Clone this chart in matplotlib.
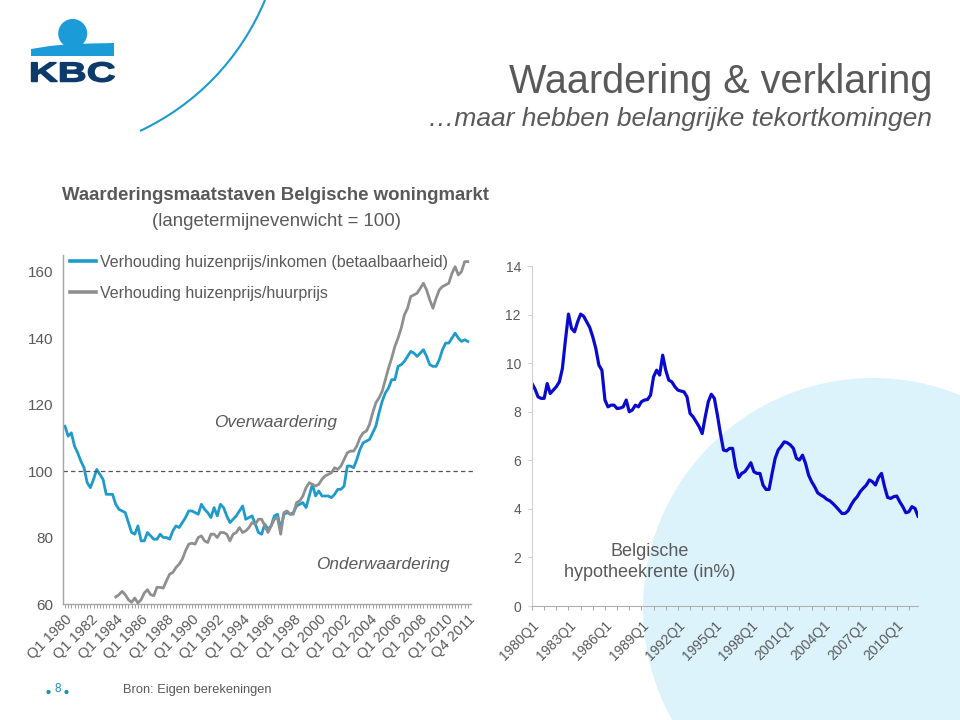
import numpy as np
import matplotlib
matplotlib.use("Agg")
import matplotlib.pyplot as plt
from matplotlib.patches import Circle, Polygon, PathPatch
from matplotlib.path import Path
from matplotlib.textpath import TextPath
from matplotlib.font_manager import FontProperties
from matplotlib.transforms import Affine2D

plt.rcParams['font.family'] = ['Liberation Sans', 'DejaVu Sans']

# ---------------- data ----------------
quarters = [f"{y}Q{q}" for y in range(1980, 2012) for q in range(1, 5)]

inkomen = [
    113.5, 110.5, 111.5, 107.5, 105.5, 103, 101, 96.5, 95, 97.5,
    100.5, 99, 97.5, 93, 93, 93, 90, 88.5, 88, 87.5,
    84.5, 81.5, 81, 83.5, 79, 79, 81.5, 80.5, 79.5, 79.5,
    81, 80, 80, 79.5, 82, 83.5, 83, 84.5, 86, 88,
    88, 87.5, 87, 90, 88.5, 87.5, 86, 89, 86.5, 90,
    89, 86.5, 84.5, 85.5, 86.5, 88, 89.5, 85.5, 86, 86.5,
    84, 81.5, 81, 84, 82.5, 83.5, 86.5, 87, 82.5, 87,
    87.5, 87, 87.5, 89.5, 90, 90.5, 89, 92.5, 96, 92.5,
    94, 92.5, 92.5, 92.5, 92, 93, 94.5, 94.5, 95.5, 101.5,
    101.5, 101, 103.5, 106.5, 108.5, 109, 109.5, 111.5, 113.5, 117.5,
    121, 123.5, 125, 127.5, 127.5, 131.5, 132, 133, 134.5, 136,
    135.5, 134.5, 135.5, 136.5, 134.5, 132, 131.5, 131.5, 133.5, 136.5,
    138.5, 138.5, 140, 141.5, 140, 139, 139.5, 139,
]

huur_start = "1984Q1"
huur = [
    62.1, 62.8, 63.8, 62.8, 61.3, 60.5, 61.8, 60.3, 61.3, 63.3,
    64.3, 62.8, 62.5, 65, 65, 64.8, 67, 69, 69.5, 71, 72,
    73.5, 76, 78, 78.3, 78, 80, 80.5, 79, 78.5, 81,
    81, 80, 81.5, 81.5, 81, 79, 81, 81.5, 83, 81.5, 82,
    83, 84.5, 84, 85.5, 85.5, 83.5, 81.5, 83.5, 85.5, 86,
    81, 87.5, 88, 87, 87, 90.5, 91, 92.5, 95, 96.5, 96,
    95.5, 96, 97.5, 98.5, 99, 99.5, 101, 100.5, 101.5, 103.5,
    105.5, 106, 106, 107.5, 110, 111.5, 112, 114, 117.5, 120.5, 122,
    124, 127.5, 131, 134, 137.5, 140, 143, 147, 149, 152.5,
    153, 153.5, 155, 156.5, 154.5, 151.5, 149, 152, 154.5, 155.5, 156,
    156.5, 159.5, 161.5, 159, 160, 163, 163,
]

hypotheek = [
    9.16, 8.93, 8.61, 8.55, 8.55, 9.16, 8.75, 8.89, 9.03, 9.23,
    9.78, 10.95, 12.02, 11.43, 11.29, 11.70, 12.02, 11.93, 11.70, 11.47,
    11.08, 10.60, 9.92, 9.71, 8.48, 8.20, 8.27, 8.27, 8.13, 8.15,
    8.20, 8.48, 8.00, 8.07, 8.27, 8.20, 8.41, 8.48, 8.50, 8.68,
    9.44, 9.71, 9.51, 10.33, 9.71, 9.30, 9.23, 9.03, 8.89, 8.85,
    8.82, 8.61, 7.93, 7.79, 7.59, 7.38, 7.10, 7.79, 8.41, 8.72,
    8.55, 7.86, 7.10, 6.42, 6.39, 6.49, 6.49, 5.73, 5.29, 5.46,
    5.53, 5.70, 5.90, 5.53, 5.46, 5.46, 4.98, 4.80, 4.80, 5.46,
    6.08, 6.42, 6.58, 6.76, 6.72, 6.63, 6.49, 6.08, 6.01, 6.21,
    5.87, 5.39, 5.12, 4.91, 4.66, 4.57, 4.50, 4.39, 4.33, 4.22,
    4.09, 3.95, 3.81, 3.81, 3.92, 4.16, 4.36, 4.50, 4.71, 4.85,
    4.98, 5.19, 5.12, 4.98, 5.29, 5.46, 4.91, 4.47, 4.43, 4.50,
    4.53, 4.29, 4.09, 3.84, 3.88, 4.09, 4.02, 3.70,
]

left_labels = [f"Q1 {y}" for y in range(1980, 2011, 2)] + ["Q4 2011"]
left_label_q = [f"{y}Q1" for y in range(1980, 2011, 2)] + ["2011Q4"]
right_labels = [f"{y}Q1" for y in range(1980, 2011, 3)]

legend_labels = ["Verhouding huizenprijs/inkomen (betaalbaarheid)",
                 "Verhouding huizenprijs/huurprijs"]

GRAY_TXT = '#595959'
BLUE_L = '#1E9BCB'
GRAY_L = '#8F8F8F'
BLUE_R = '#0A0ACF'

# ---------------- figure ----------------
fig = plt.figure(figsize=(9.6, 7.2), dpi=100)

# background / decoration layer in pixel coords
bg = fig.add_axes([0, 0, 1, 1], zorder=0)
bg.set_xlim(0, 960)
bg.set_ylim(720, 0)
bg.axis('off')
bg.add_patch(Circle((873, 608), 230, color='#DDF3FC', lw=0))

# thin decorative arc near logo
arc = Path([(140, 131), (195, 105), (240, 60), (265, 0)],
           [Path.MOVETO, Path.CURVE4, Path.CURVE4, Path.CURVE4])
bg.add_patch(PathPatch(arc, fill=False, edgecolor='#1A9AD0', lw=1.5))

# KBC logo
logo_blue = '#1B9BD8'
bg.add_patch(Circle((72.7, 33.5), 14.5, color=logo_blue, lw=0))
bg.add_patch(Polygon([(31, 56), (31, 49), (50, 46), (65, 44.5), (90, 43.5),
                      (114, 43), (114, 56)], closed=True, color=logo_blue, lw=0))
tp = TextPath((0, 0), "KBC", size=1,
              prop=FontProperties(family='Liberation Sans', weight='bold'))
ext = tp.get_extents()
tr = (Affine2D().translate(-ext.x0, -ext.y0)
      .scale(83 / ext.width, -19.5 / ext.height).translate(31.5, 81.8))
bg.add_patch(PathPatch(tr.transform_path(tp), facecolor='#0B3A6B',
                       edgecolor='#0B3A6B', lw=1.0))

# titles
fig.text(932 / 960, 1 - 82 / 720, "Waardering & verklaring", ha='right',
         va='center', fontsize=28.5, color=GRAY_TXT)
fig.text(932 / 960, 1 - 119 / 720, "\u2026maar hebben belangrijke tekortkomingen",
         ha='right', va='center', fontsize=19, color=GRAY_TXT, style='italic')
fig.text(276 / 960, 1 - 195 / 720, "Waarderingsmaatstaven Belgische woningmarkt",
         ha='center', va='center', fontsize=13.4, color=GRAY_TXT, weight='bold')
fig.text(276 / 960, 1 - 222 / 720, "(langetermijnevenwicht = 100)",
         ha='center', va='center', fontsize=13.4, color=GRAY_TXT)

# footer
fig.text(123 / 960, 1 - 690 / 720, "Bron: Eigen berekeningen", ha='left',
         va='center', fontsize=9.3, color=GRAY_TXT)
fig.text(57.5 / 960, 1 - 689 / 720, "8", ha='center', va='center',
         fontsize=8.5, color='#1A8FB8')
bg.add_patch(Circle((48.5, 692), 2.1, color='#1A8FB8', lw=0))
bg.add_patch(Circle((66.5, 692), 2.1, color='#1A8FB8', lw=0))

# ---------------- left chart ----------------
xl = np.arange(len(quarters))
hs = quarters.index(huur_start)
xh = np.arange(hs, hs + len(huur))

axL = fig.add_axes([63.4 / 960, (720 - 604) / 720, (471 - 63.4) / 960,
                    (604 - 255) / 720], zorder=2)
axL.set_facecolor('none')
axL.plot(xl, inkomen, color=BLUE_L, lw=2.0, solid_joinstyle='round',
         label=legend_labels[0])
axL.plot(xh, huur, color=GRAY_L, lw=2.0, solid_joinstyle='round',
         label=legend_labels[1])
axL.axhline(100, color='#555555', lw=0.9, ls=(0, (3.5, 2.5)), xmax=1.01,
            clip_on=False)
axL.set_xlim(-0.5, 128)
axL.set_ylim(60, 165)
axL.set_yticks([60, 80, 100, 120, 140, 160])
axL.set_xticks([quarters.index(q) for q in left_label_q])
axL.set_xticklabels(left_labels, rotation=45, ha='right', rotation_mode='anchor')
axL.set_xticks(xl, minor=True)
axL.tick_params(axis='x', which='both', length=3, color='#A0A0A0', width=0.7,
                labelsize=10.5, labelcolor=GRAY_TXT, pad=3)
axL.tick_params(axis='y', length=0, pad=7, labelsize=11, labelcolor=GRAY_TXT)
for s in ['top', 'right']:
    axL.spines[s].set_visible(False)
for s in ['left', 'bottom']:
    axL.spines[s].set_color('#A6A6A6')
    axL.spines[s].set_linewidth(1.0)
leg = axL.legend(loc='upper left', bbox_to_anchor=(0.0162, 1.001), frameon=False,
                 fontsize=11.5, handlelength=1.65, handletextpad=0.25,
                 labelspacing=1.0, borderpad=0, borderaxespad=0)
for t in leg.get_texts():
    t.set_color(GRAY_TXT)
for h in leg.get_lines():
    h.set_linewidth(2.6)
fig.text(276 / 960, 1 - 422 / 720, "Overwaardering", ha='center', va='center',
         fontsize=12.4, style='italic', color=GRAY_TXT, zorder=3)
fig.text(382.5 / 960, 1 - 565 / 720, "Onderwaardering", ha='center', va='center',
         fontsize=12.4, style='italic', color=GRAY_TXT, zorder=3)

# ---------------- right chart ----------------
xr = np.arange(len(hypotheek))
axR = fig.add_axes([532 / 960, (720 - 606) / 720, (918 - 532) / 960,
                    (606 - 266) / 720], zorder=2)
axR.set_facecolor('none')
axR.plot(xr, hypotheek, color=BLUE_R, lw=2.3, solid_joinstyle='round')
axR.set_xlim(0, 127)
axR.set_ylim(0, 14)
axR.set_yticks(range(0, 15, 2))
axR.set_xticks([quarters.index(q) for q in right_labels])
axR.set_xticklabels(right_labels, rotation=45, ha='right', rotation_mode='anchor')
axR.set_xticks(np.arange(0, 128, 4), minor=True)
axR.tick_params(axis='x', which='both', length=3, color='#A6A6A6', width=0.7,
                labelsize=10, labelcolor=GRAY_TXT, pad=6)
axR.tick_params(axis='y', length=3, color='#D0D0D0', width=0.7, pad=5,
                labelsize=10, labelcolor=GRAY_TXT)
for s in ['top', 'right']:
    axR.spines[s].set_visible(False)
axR.spines['left'].set_color('#D0D0D0')
axR.spines['bottom'].set_color('#B0B0B0')
fig.text(650 / 960, 1 - 562 / 720, "Belgische\nhypotheekrente (in%)",
         ha='center', va='center', fontsize=13, color=GRAY_TXT,
         linespacing=1.25, zorder=3)

fig.savefig("out.png", dpi=100)
